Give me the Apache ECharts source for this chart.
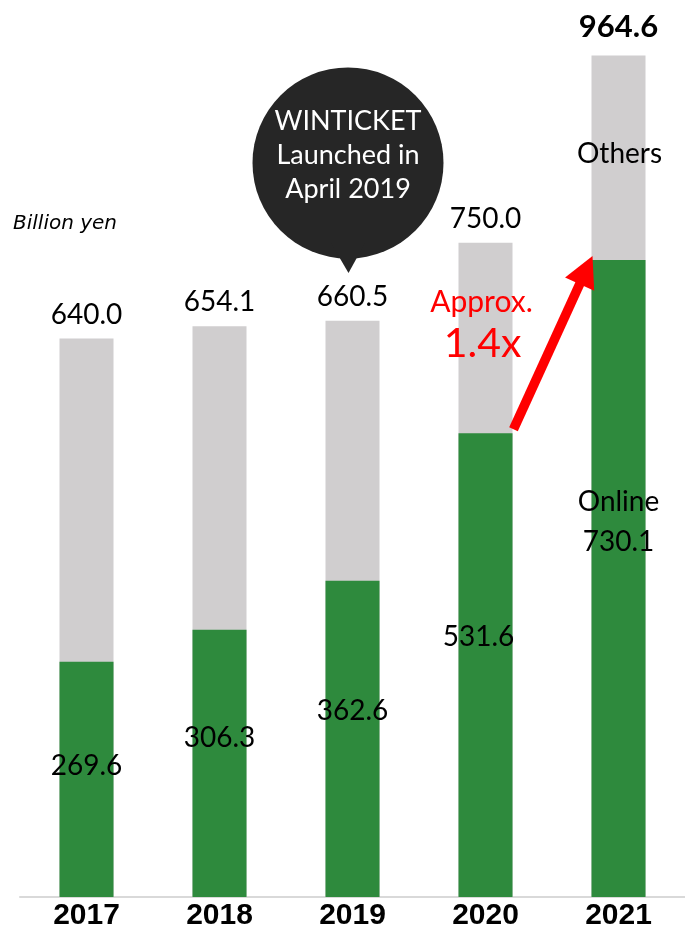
<!DOCTYPE html>
<html>
<head>
<meta charset="utf-8">
<script src="https://cdn.jsdelivr.net/npm/echarts@6/dist/echarts.min.js"></script>
<style>
  html, body { margin: 0; padding: 0; background: #ffffff; }
  #chart { width: 685px; height: 931px; }
</style>
</head>
<body>
<div id="chart"></div>
<script>
// Market size by year (billion yen): total and the online share
const years = ['2017', '2018', '2019', '2020', '2021'];
const totalValues = [640.0, 654.1, 660.5, 750.0, 964.6];
const onlineValues = [269.6, 306.3, 362.6, 531.6, 730.1];

const unitText = 'Billion yen';
const onlineName = 'Online';
const othersName = 'Others';
const bubbleText = 'WINTICKET\nLaunched in\nApril 2019';
const growthTop = 'Approx.';
const growthBig = '1.4x';

// Where each online value sits inside its green bar (px below the bar top)
const onlineLabelTop = [104, 108, 130, 204, 262];
const onlineLabelShift = [0, 0, 0, -7, 0];

const GREEN = '#2e8a3d';
const GREY = '#d0cecf';
const RED = '#ff0000';
const NUM_FONT = 'Lato, "Noto Sans", sans-serif';
const BAR_W = 54;

const chart = echarts.init(document.getElementById('chart'), null, { renderer: 'canvas' });

const lastIdx = years.length - 1;

chart.setOption({
  animation: false,
  grid: { left: 20, width: 672, top: 24.5, bottom: 32 },
  xAxis: {
    type: 'category',
    data: years,
    axisTick: { show: false },
    axisLine: { lineStyle: { color: '#d9d9d9', width: 2 } },
    axisLabel: {
      margin: 4,
      color: '#000',
      fontSize: 30,
      fontWeight: 'bold',
      fontFamily: '"Liberation Sans", Arial, sans-serif'
    }
  },
  yAxis: {
    type: 'value',
    min: 0,
    max: 1000,
    show: false,
    splitLine: { show: false }
  },
  series: [
    {
      name: 'Total',
      type: 'bar',
      barWidth: BAR_W,
      itemStyle: { color: GREY },
      z: 2,
      label: {
        show: true,
        position: 'top',
        distance: 10,
        color: '#000',
        fontSize: 28,
        fontFamily: NUM_FONT,
        formatter: p => p.value.toFixed(1)
      },
      data: totalValues.map((v, i) => i === lastIdx
        ? { value: v, label: { fontWeight: 'bold', fontSize: 31, distance: 13 } }
        : v)
    },
    {
      name: onlineName,
      type: 'bar',
      barWidth: BAR_W,
      barGap: '-100%',
      itemStyle: { color: GREEN },
      z: 3,
      label: {
        show: true,
        color: '#000',
        fontSize: 28,
        fontFamily: NUM_FONT,
        align: 'center',
        verticalAlign: 'middle',
        lineHeight: 40
      },
      data: onlineValues.map((v, i) => ({
        value: v,
        label: {
          position: ['50%', onlineLabelTop[i]],
          offset: [onlineLabelShift[i], 0],
          formatter: i === lastIdx ? onlineName + '\n' + v.toFixed(1) : v.toFixed(1)
        }
      }))
    }
  ]
});

// Annotations anchored to the axes
const px = (cat, val) => chart.convertToPixel({ gridIndex: 0 }, [cat, val]);
const half = BAR_W / 2;

// "Others" in the middle of the grey segment of the last bar
const othersPos = px(years[lastIdx], (onlineValues[lastIdx] + totalValues[lastIdx]) / 2);

// Growth arrow: from the 2020 online top to the 2021 online top
const a0 = px(years[3], onlineValues[3]);
const a1 = px(years[4], onlineValues[4]);
const start = [a0[0] + half + 1, a0[1] - 4];
const tip = [a1[0] - half + 1, a1[1] - 4];
const dx = tip[0] - start[0], dy = tip[1] - start[1];
const len = Math.sqrt(dx * dx + dy * dy);
const ux = dx / len, uy = dy / len;
const headLen = 31, headHalf = 16;
const base = [tip[0] - ux * headLen, tip[1] - uy * headLen];
const nx = -uy, ny = ux;

// Speech bubble above the 2019 bar
const b = px(years[2], totalValues[2]);
const bubbleCx = b[0] - 4.5;
const bubbleCy = 163;
const bubbleR = 95.5;

const g2020 = px(years[3], totalValues[3]);

chart.setOption({
  graphic: [
    {
      type: 'text',
      left: 13,
      top: 214,
      style: {
        text: unitText,
        fontSize: 20,
        fontStyle: 'italic',
        fontFamily: '"DejaVu Sans", sans-serif',
        fill: '#000'
      }
    },
    {
      type: 'text',
      x: othersPos[0] + 1,
      y: othersPos[1] - 4,
      style: {
        text: othersName,
        fontSize: 28,
        fontFamily: NUM_FONT,
        fill: '#000',
        align: 'center',
        verticalAlign: 'middle'
      },
      z: 10
    },
    {
      type: 'circle',
      shape: { cx: bubbleCx, cy: bubbleCy, r: bubbleR },
      style: { fill: '#262626' },
      z: 10
    },
    {
      type: 'polygon',
      shape: { points: [[bubbleCx - 17, bubbleCy + 80], [bubbleCx + 17, bubbleCy + 80], [bubbleCx + 0.5, bubbleCy + 110]] },
      style: { fill: '#262626' },
      z: 10
    },
    {
      type: 'text',
      x: bubbleCx,
      y: bubbleCy - 8,
      style: {
        text: bubbleText,
        fontSize: 27,
        lineHeight: 34,
        fontFamily: NUM_FONT,
        fill: '#ffffff',
        align: 'center',
        verticalAlign: 'middle'
      },
      z: 11
    },
    {
      type: 'text',
      x: g2020[0] - 4,
      y: 302,
      style: {
        text: growthTop,
        fontSize: 30,
        fontFamily: NUM_FONT,
        fill: RED,
        align: 'center',
        verticalAlign: 'middle'
      },
      z: 10
    },
    {
      type: 'text',
      x: g2020[0] - 3,
      y: 344,
      style: {
        text: growthBig,
        fontSize: 41,
        fontFamily: NUM_FONT,
        fill: RED,
        align: 'center',
        verticalAlign: 'middle'
      },
      z: 10
    },
    {
      type: 'line',
      shape: { x1: start[0], y1: start[1], x2: base[0] + ux * 2, y2: base[1] + uy * 2 },
      style: { stroke: RED, lineWidth: 9.5 },
      z: 10
    },
    {
      type: 'polygon',
      shape: {
        points: [
          tip,
          [base[0] + nx * headHalf, base[1] + ny * headHalf],
          [base[0] - nx * headHalf, base[1] - ny * headHalf]
        ]
      },
      style: { fill: RED },
      z: 10
    }
  ]
});
</script>
</body>
</html>
